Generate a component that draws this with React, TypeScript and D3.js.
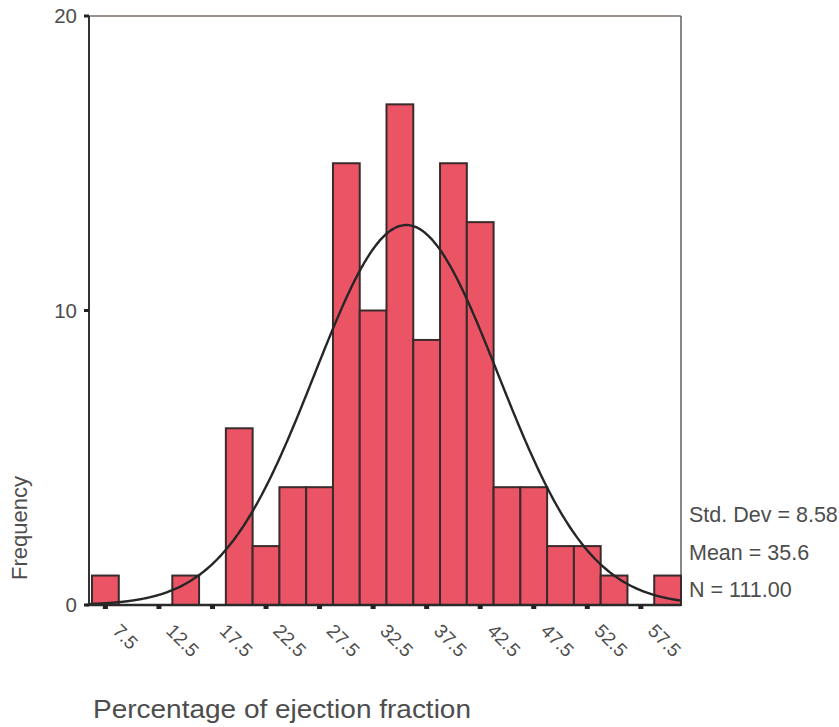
import React from "react";
import * as d3 from "d3";

const binCenters = [7.5, 10, 12.5, 15, 17.5, 20, 22.5, 25, 27.5, 30, 32.5, 35, 37.5, 40, 42.5, 45, 47.5, 50, 52.5, 55, 57.5, 60];
const counts = [1, 0, 0, 1, 0, 6, 2, 4, 4, 15, 10, 17, 9, 15, 13, 4, 4, 2, 2, 1, 0, 1];
const xTickValues = [7.5, 12.5, 17.5, 22.5, 27.5, 32.5, 37.5, 42.5, 47.5, 52.5, 57.5];
const xTickLabels = ["7.5", "12.5", "17.5", "22.5", "27.5", "32.5", "37.5", "42.5", "47.5", "52.5", "57.5"];
const yTickValues = [0, 10, 20];
const binWidth = 2.5;
const stdDev = 8.58;
const mean = 35.6;
const nCases = 111;
const statsLines = ["Std. Dev = 8.58", "Mean = 35.6", "N = 111.00"];

const W = 839;
const H = 727;
const frame = { left: 89, right: 681, top: 16, bottom: 605 };
const FONT = "Liberation Sans, Arial, Helvetica, sans-serif";
const TEXT = "#4d4d4d";

export default function App() {
  const x = d3.scaleLinear().domain([6.25, 61.25]).range([92, 681]);
  const y = d3.scaleLinear().domain([0, 20]).range([frame.bottom, frame.top]);

  const x0 = x.invert(frame.left);
  const curveX = d3.range(0, 401).map((i) => x0 + (i / 400) * (61.25 - x0));
  const density = (v: number) =>
    (nCases * binWidth) / (stdDev * Math.sqrt(2 * Math.PI)) * Math.exp(-((v - mean) ** 2) / (2 * stdDev * stdDev));
  const line = d3
    .line<number>()
    .x((v) => x(v))
    .y((v) => y(density(v)))
    .curve(d3.curveBasis);

  return (
    <svg width={W} height={H} style={{ position: "absolute", left: 0, top: 0, background: "#fff" }}>
      <rect x={0} y={0} width={W} height={H} fill="#fff" />
      <line x1={frame.left} x2={frame.right} y1={frame.top} y2={frame.top} stroke="#7d6f69" strokeWidth={1.6} />
      <line x1={frame.right} x2={frame.right} y1={frame.top} y2={frame.bottom} stroke="#555" strokeWidth={1.4} />

      {binCenters.map((c, i) =>
        counts[i] > 0 ? (
          <rect
            key={i}
            x={x(c - binWidth / 2)}
            y={y(counts[i])}
            width={x(c + binWidth / 2) - x(c - binWidth / 2)}
            height={y(0) - y(counts[i])}
            fill="#eb5465"
            stroke="#3a2a2b"
            strokeWidth={2}
          />
        ) : null
      )}

      <path d={line(curveX) || ""} fill="none" stroke="#262626" strokeWidth={2.4} />

      <line x1={frame.left} x2={frame.left} y1={frame.top} y2={frame.bottom} stroke="#333" strokeWidth={2} />
      <line x1={frame.left - 3} x2={frame.right} y1={frame.bottom} y2={frame.bottom} stroke="#2a2a2a" strokeWidth={2.5} />

      {yTickValues.map((t) => (
        <g key={t}>
          <rect x={frame.left - 5} y={y(t) - 1.5} width={5} height={3} fill="#222" />
          <text x={77} y={y(t) + 7} textAnchor="end" fontFamily={FONT} fontSize={20.5} fill={TEXT}>
            {t}
          </text>
        </g>
      ))}

      {xTickValues.map((t, i) => (
        <g key={t}>
          <rect x={x(t) - 2.5} y={frame.bottom} width={5} height={4} fill="#222" />
          <text
            transform={`translate(${x(t) + 6},${632}) rotate(45)`}
            fontFamily={FONT}
            fontSize={19}
            fill={TEXT}
          >
            {xTickLabels[i]}
          </text>
        </g>
      ))}

      <text
        transform={`translate(27,528) rotate(-90)`}
        textAnchor="middle"
        fontFamily={FONT}
        fontSize={22}
        fill={TEXT}
      >
        Frequency
      </text>
      <text
        x={93}
        y={718}
        fontFamily={FONT}
        fontSize={25}
        fill={TEXT}
        textLength={378}
        lengthAdjust="spacingAndGlyphs"
      >
        Percentage of ejection fraction
      </text>

      {statsLines.map((s, i) => (
        <text key={s} x={689} y={522 + i * 37.5} fontFamily={FONT} fontSize={21.5} fill={TEXT}>
          {s}
        </text>
      ))}
    </svg>
  );
}
